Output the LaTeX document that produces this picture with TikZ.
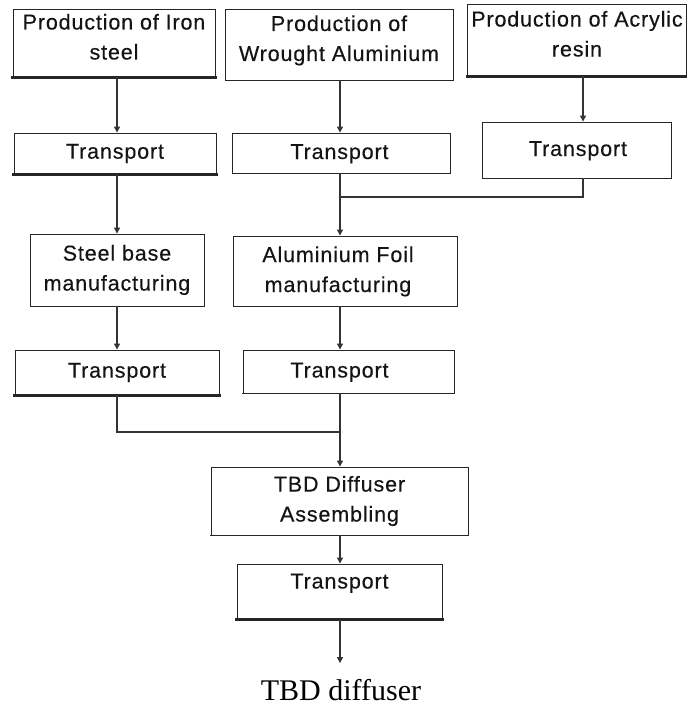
\documentclass[tikz,border=0pt]{standalone}
\usepackage{fontspec}
\setmainfont{Liberation Serif}
\newfontfamily\boxfont{Liberation Sans}[LetterSpace=4,FakeBold=0.3]
\usetikzlibrary{arrows.meta}

% centred lines with extra room on the right, so the text sits left of the box centre
\newcommand\leftlines[2]{\begin{tabular}{@{}c@{\hspace{#1}}}#2\end{tabular}}

\tikzset{
  procbox/.style={draw=black!85, line width=0.9pt, fill=white, align=center,
    inner sep=0pt, font=\boxfont\fontsize{21.5}{30}\selectfont, text=black!92},
  toprow/.style={text height=46pt, text depth=13pt},
  raised/.style={text height=15pt, text depth=21pt},
  flow/.style={draw=black!80, line width=1.3pt,
    -{Triangle[width=6pt,length=6pt]}},
  link/.style={draw=black!80, line width=1.3pt},
  heavy/.style={line width=2.4pt, draw=black!85, line cap=rect}
}

\begin{document}
\begin{tikzpicture}[x=1pt,y=-1pt]
\useasboundingbox (0,0) rectangle (687,709);

% raw material production
\node[procbox, toprow, minimum width=202, minimum height=68] (p1) at (114,43)
  {Production of Iron\\steel};
\node[procbox, toprow, minimum width=228, minimum height=71] (p2) at (339,44.5)
  {Production of\\Wrought Aluminium};
\node[procbox, toprow, minimum width=219, minimum height=72] (p3) at (577,40)
  {Production of Acrylic\\resin};

% first transport stage
\node[procbox, minimum width=202, minimum height=41] (t1) at (115,153.5) {Transport};
\node[procbox, minimum width=218, minimum height=40] (t2) at (341,153)
  {\leftlines{3pt}{Transport}};
\node[procbox, minimum width=189, minimum height=56] (t3) at (576.5,150)
  {\leftlines{0pt}{Transport}\hspace*{-3pt}};

% part manufacturing
\node[procbox, minimum width=174, minimum height=72] (steel) at (117,270)
  {Steel base\\manufacturing};
\node[procbox, minimum width=224, minimum height=70] (foil) at (345,271)
  {\leftlines{14pt}{Aluminium Foil\\manufacturing}};

% second transport stage
\node[procbox, minimum width=204, minimum height=45] (t4) at (117,372.5) {Transport};
\node[procbox, minimum width=211, minimum height=43] (t5) at (348.5,371.5)
  {\leftlines{18pt}{Transport}};

% assembly and delivery
\node[procbox, minimum width=257, minimum height=68] (asm) at (339.5,501)
  {TBD Diffuser\\Assembling};
\node[procbox, raised, minimum width=205, minimum height=55] (t6) at (339.5,591.5)
  {Transport};
\node[font=\fontsize{30}{34}\selectfont, text=black, inner sep=0pt] (out) at (341,690)
  {TBD diffuser};

% heavier lower edges
\draw[heavy] (p1.south west) -- (p1.south east);
\draw[heavy] (p3.south west) -- (p3.south east);
\draw[heavy] (t1.south west) -- (t1.south east);
\draw[heavy] (t4.south west) -- (t4.south east);
\draw[heavy] (t6.south west) -- (t6.south east);
\draw[heavy, line width=1.6pt] (asm.south west) -- (asm.south east);
\draw[heavy, line width=1.6pt] (t5.south west) -- (t5.south east);

% connectors
\coordinate (c1) at (117,0);
\coordinate (c2) at (340,0);
\coordinate (c3) at (583,0);
\draw[flow] (p1.south -| c1) -- (t1.north -| c1);
\draw[flow] (p2.south -| c2) -- (t2.north -| c2);
\draw[flow] (p3.south -| c3) -- (t3.north -| c3);
\draw[flow] (t1.south -| c1) -- (steel.north -| c1);
\draw[flow] (t2.south -| c2) -- (foil.north -| c2);
\coordinate (j1) at (340,197);
\draw[link] (t3.south -| c3) |- (j1);
\draw[flow] (steel.south -| c1) -- (t4.north -| c1);
\draw[flow] (foil.south -| c2) -- (t5.north -| c2);
\coordinate (j2) at (340,432);
\draw[link] (t4.south -| c1) |- (j2);
\draw[flow] (t5.south -| c2) -- (asm.north -| c2);
\draw[flow] (asm.south -| c2) -- (t6.north -| c2);
\draw[flow] (t6.south -| c2) -- ([yshift=16pt]out.north -| c2);
\end{tikzpicture}
\end{document}
